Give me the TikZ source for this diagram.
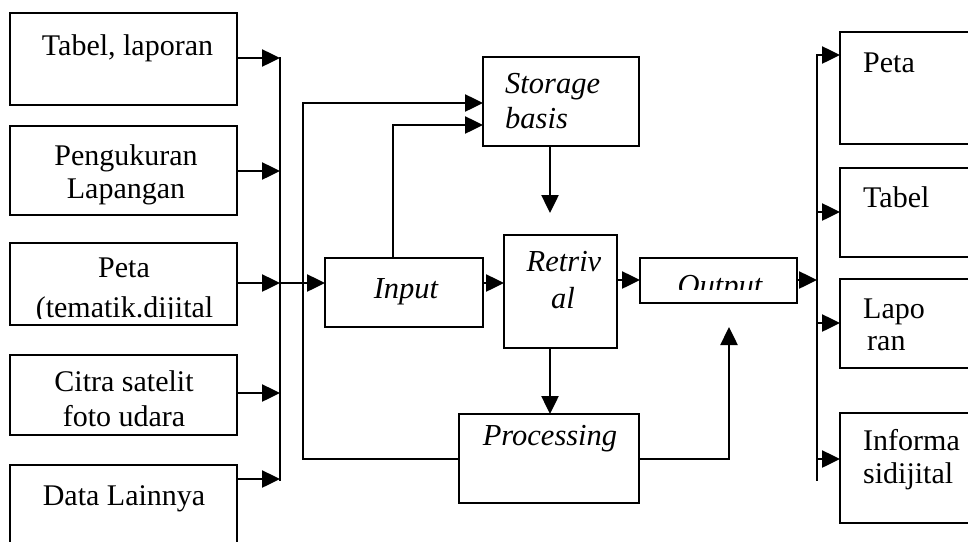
\documentclass[tikz,border=0pt]{standalone}
\usepackage{fontspec}
\setmainfont{Liberation Serif}
\usetikzlibrary{arrows.meta}
\begin{document}
\begin{tikzpicture}[x=1pt,y=-1pt,
  box/.style={draw,line width=2.5pt,inner sep=0pt,outer sep=0pt},
  conn/.style={line width=2.5pt},
  arr/.style={line width=2.5pt,-{Triangle[length=18pt,width=17pt]}},
  txt/.style={inner sep=0pt,font=\fontsize{30}{33}\selectfont},
  itx/.style={txt,font=\fontsize{30.5}{33}\selectfont\itshape}]
\useasboundingbox (0,0) rectangle (968,541);
\clip (0,0) rectangle (968,541);
% boxes
\node[box,minimum width=227pt,minimum height=92pt] (L1) at (123.5,59) {};
\node[box,minimum width=227pt,minimum height=89pt] (L2) at (123.5,170.5) {};
\node[box,minimum width=227pt,minimum height=82pt] (L3) at (123.5,284) {};
\node[box,minimum width=227pt,minimum height=80pt] (L4) at (123.5,395) {};
\node[box,minimum width=227pt,minimum height=95pt] (L5) at (123.5,512.5) {};
\node[box,minimum width=158pt,minimum height=69pt] (Inp) at (404,292.5) {};
\node[box,minimum width=156pt,minimum height=89pt] (Sto) at (561,101.5) {};
\node[box,minimum width=113pt,minimum height=113pt] (Ret) at (560.5,291.5) {};
\node[box,minimum width=157pt,minimum height=45pt] (Out) at (718.5,280.5) {};
\node[box,minimum width=180pt,minimum height=89pt] (Pro) at (549,458.5) {};
\node[box,minimum width=140pt,minimum height=112pt] (R1) at (910,88) {};
\node[box,minimum width=140pt,minimum height=89pt] (R2) at (910,212.5) {};
\node[box,minimum width=140pt,minimum height=89pt] (R3) at (910,323.5) {};
\node[box,minimum width=140pt,minimum height=110pt] (R4) at (910,468) {};
% texts
\node[txt,anchor=base] (t1) at (127.5,55) {Tabel, laporan};
\node[txt,anchor=base] (t2a) at (126,165) {Pengukuran};
\node[txt,anchor=base] (t2b) at (126,198) {Lapangan};
\node[txt,anchor=base] (t3a) at (124,277) {Peta};
\begin{scope}
\clip (12,245) rectangle (235,318.5);
\node[txt,anchor=base] (t3b) at (124.5,317) {(tematik.dijital};
\end{scope}
\node[txt,anchor=base] (t4a) at (124,391) {Citra satelit};
\node[txt,anchor=base] (t4b) at (124,426) {foto udara};
\node[txt,anchor=base] (t5) at (124,505) {Data Lainnya};
\node[itx,anchor=base] (ti) at (406,298) {Input};
\node[itx,anchor=base west] (tsa) at (505,93) {Storage};
\node[itx,anchor=base west] (tsb) at (505,128) {basis};
\node[itx,anchor=base] (tra) at (564,271) {Retriv};
\node[itx,anchor=base] (trb) at (563,308) {al};
\begin{scope}
\clip (642,260) rectangle (795,289.5);
\node[itx,anchor=base] (to) at (720,295) {Output};
\end{scope}
\node[itx,anchor=base] (tp) at (550,445) {Processing};
\node[txt,anchor=base west] (r1) at (863,72) {Peta};
\node[txt,anchor=base west] (r2) at (863,207) {Tabel};
\node[txt,anchor=base west] (r3a) at (863,318) {Lapo};
\node[txt,anchor=base west] (r3b) at (867,350) {ran};
\node[txt,anchor=base west] (r4a) at (863,450) {Informa};
\node[txt,anchor=base west] (r4b) at (863,483) {sidijital};
% coordinates
\coordinate (b1) at (280,58);
\coordinate (b2) at (280,171);
\coordinate (b3) at (280,283);
\coordinate (b4) at (280,393);
\coordinate (b5) at (280,479);
\coordinate (btop) at (280,57);
\coordinate (bbot) at (280,481);
\coordinate (fbA) at (303,459);
\coordinate (fbB) at (303,103);
\coordinate (isA) at (393,125);
\coordinate (srTip) at (550,213);
\coordinate (poA) at (729,459);
\coordinate (poTip) at (729,327);
\coordinate (rbus) at (817,280);
\coordinate (rtop) at (817,54);
\coordinate (rbot) at (817,481);
\coordinate (rb1) at (817,55);
\coordinate (rb2) at (817,212);
\coordinate (rb3) at (817,323);
\coordinate (rb4) at (817,459);
% connectors left
\draw[arr] (L1.east |- b1) -- (b1);
\draw[arr] (L2.east |- b2) -- (b2);
\draw[arr] (L3.east |- b3) -- (b3);
\draw[arr] (L4.east |- b4) -- (b4);
\draw[arr] (L5.east |- b5) -- (b5);
\draw[conn] (btop) -- (bbot);
\draw[arr] (b3) -- (Inp.west |- b3);
% feedback from processing to storage
\draw[arr] (Pro.west |- fbA) -- (fbA) -- (fbB) -- (Sto.west |- fbB);
% input to storage
\draw[arr] (Inp.north -| isA) -- (isA) -- (Sto.west |- isA);
% storage to retrival
\draw[arr] (Sto.south -| srTip) -- (srTip);
% retrival to processing
\draw[arr] (Ret.south -| srTip) -- (Pro.north -| srTip);
% input to retrival, retrival to output
\draw[arr] (Inp.east |- b3) -- (Ret.west |- b3);
\draw[arr] (Ret.east |- rbus) -- (Out.west |- rbus);
% processing to output
\draw[arr] (Pro.east |- poA) -- (poA) -- (poTip);
% output to right bus
\draw[arr] (Out.east |- rbus) -- (rbus);
\draw[conn] (rtop) -- (rbot);
\draw[arr] (rb1) -- (R1.west |- rb1);
\draw[arr] (rb2) -- (R2.west |- rb2);
\draw[arr] (rb3) -- (R3.west |- rb3);
\draw[arr] (rb4) -- (R4.west |- rb4);
\end{tikzpicture}
\end{document}
